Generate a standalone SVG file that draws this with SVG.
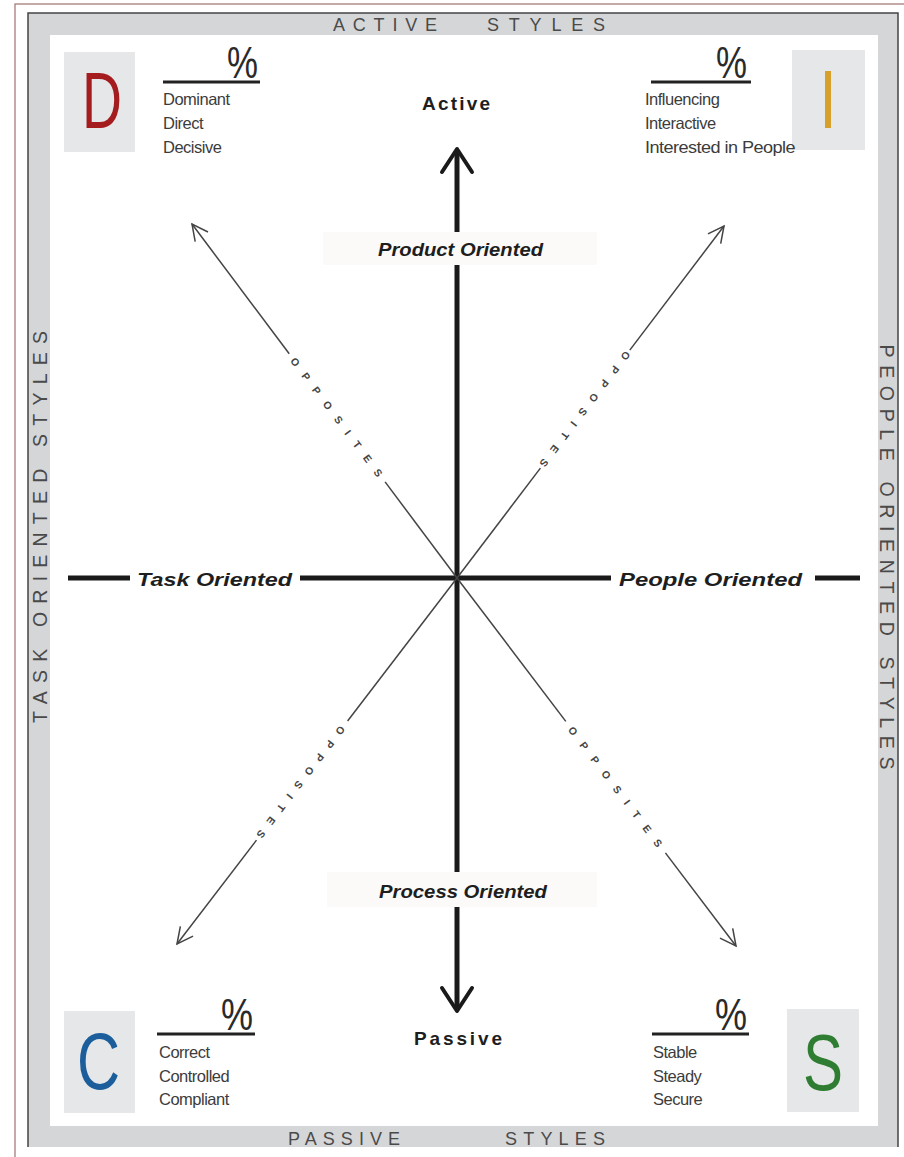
<svg xmlns="http://www.w3.org/2000/svg" width="904" height="1157" viewBox="0 0 904 1157">
<style>
.band{font-family:"Liberation Sans",Arial,sans-serif;font-size:18px;fill:#4a4a4a}
.vband{font-family:"Liberation Sans",Arial,sans-serif;font-size:19.5px;fill:#4a4a4a}
.big{font-family:"Liberation Sans",Arial,sans-serif;font-size:80px}
.pct{font-family:"Liberation Sans",Arial,sans-serif;font-size:44px;fill:#2a2a2a}
.desc{font-family:"Liberation Sans",Arial,sans-serif;font-size:16.5px;fill:#3c3c3c;letter-spacing:-0.5px}
.axis{font-family:"Liberation Sans",Arial,sans-serif;font-size:19px;font-weight:bold;font-style:italic;fill:#1e1e1e}
.pole{font-family:"Liberation Sans",Arial,sans-serif;font-size:19px;font-weight:bold;fill:#1e1e1e}
.opp{font-family:"Liberation Sans",Arial,sans-serif;font-size:10.5px;font-weight:bold;fill:#444}
.box{fill:#e6e7e8}
.uline{stroke:#222;stroke-width:3}
.thick{stroke:#1a1a1a;stroke-width:5;fill:none}
.diag{stroke:#444;stroke-width:1.5;fill:none}
.head{stroke:#1a1a1a;stroke-width:4;fill:none;stroke-linecap:round;stroke-linejoin:round}
.lbg{fill:#fbfaf8}
</style>
<defs>
<marker id="thin" viewBox="0 0 20 20" refX="18" refY="10" markerWidth="20" markerHeight="20" markerUnits="userSpaceOnUse" orient="auto">
<path d="M2,2 L18,10 L2,18" fill="none" stroke="#444" stroke-width="1.5"/>
</marker>
</defs>

<!-- frame -->
<g id="frame">
<rect x="15" y="4" width="900" height="1170" fill="none" stroke="#a07070" stroke-width="1.2"/>
<rect x="28" y="13" width="870" height="1134" fill="#d5d6d8"/>
<path d="M28,1147 V13 H898 V1147" fill="none" stroke="#444" stroke-width="1.5"/>
<rect x="50" y="35" width="828" height="1091" fill="#ffffff"/>
<text class="band"><tspan x="333" y="31" textLength="104" lengthAdjust="spacing">ACTIVE</tspan><tspan x="487" y="31" textLength="118" lengthAdjust="spacing">STYLES</tspan></text>
<text class="band"><tspan x="288" y="1145" textLength="112" lengthAdjust="spacing">PASSIVE</tspan><tspan x="505" y="1145" textLength="100" lengthAdjust="spacing">STYLES</tspan></text>
<text class="vband" transform="translate(47,527) rotate(-90)" text-anchor="middle" textLength="392" lengthAdjust="spacing">TASK ORIENTED STYLES</text>
<text class="vband" transform="translate(880,557) rotate(90)" text-anchor="middle" textLength="425" lengthAdjust="spacing">PEOPLE ORIENTED STYLES</text>
</g>

<!-- connectors -->
<g id="connectors">
<!-- vertical axis -->
<line class="thick" x1="457" y1="150" x2="457" y2="232"/>
<line class="thick" x1="457" y1="265" x2="457" y2="872"/>
<line class="thick" x1="457" y1="907" x2="457" y2="1010"/>
<path class="head" d="M442,172 L457,149 L472,172"/>
<path class="head" d="M442,988 L457,1011 L472,988"/>
<!-- horizontal axis -->
<line class="thick" x1="68" y1="578" x2="130" y2="578"/>
<line class="thick" x1="300" y1="578" x2="611" y2="578"/>
<line class="thick" x1="815" y1="578" x2="860" y2="578"/>
<!-- diagonals -->
<line class="diag" x1="457" y1="578" x2="385.1" y2="481.9"/>
<line class="diag" x1="289.2" y1="353.8" x2="192" y2="224" marker-end="url(#thin)"/>
<line class="diag" x1="457" y1="578" x2="540.4" y2="468.1"/>
<line class="diag" x1="629.8" y1="350.1" x2="724" y2="226" marker-end="url(#thin)"/>
<line class="diag" x1="457" y1="578" x2="347.6" y2="721"/>
<line class="diag" x1="256.5" y1="840.1" x2="177" y2="944" marker-end="url(#thin)"/>
<line class="diag" x1="457" y1="578" x2="565.8" y2="721.4"/>
<line class="diag" x1="665.4" y1="852.9" x2="736" y2="946" marker-end="url(#thin)"/>
<text class="opp" transform="translate(292.8,358.6) rotate(53.2)" dy="3.8" textLength="146" lengthAdjust="spacing">OPPOSITES</text>
<text class="opp" transform="translate(628,352.5) rotate(127.2)" dy="3.8" textLength="142" lengthAdjust="spacing">OPPOSITES</text>
<text class="opp" transform="translate(342.8,727.3) rotate(127.4)" dy="3.8" textLength="138" lengthAdjust="spacing">OPPOSITES</text>
<text class="opp" transform="translate(570.6,727.8) rotate(52.8)" dy="3.8" textLength="148" lengthAdjust="spacing">OPPOSITES</text>
</g>

<!-- axis labels -->
<g id="label-active"><text class="pole" x="422" y="110" textLength="68" lengthAdjust="spacing">Active</text></g>
<g id="label-passive"><text class="pole" x="414" y="1045" textLength="88" lengthAdjust="spacing">Passive</text></g>
<g id="label-product">
<rect class="lbg" x="323" y="232" width="274" height="33"/>
<text class="axis" x="378" y="256" textLength="165" lengthAdjust="spacingAndGlyphs">Product Oriented</text>
</g>
<g id="label-process">
<rect class="lbg" x="327" y="872" width="270" height="35"/>
<text class="axis" x="379" y="898" textLength="168" lengthAdjust="spacingAndGlyphs">Process Oriented</text>
</g>
<g id="label-task"><text class="axis" x="137" y="586" textLength="155" lengthAdjust="spacingAndGlyphs">Task Oriented</text></g>
<g id="label-people"><text class="axis" x="619" y="586" textLength="183" lengthAdjust="spacingAndGlyphs">People Oriented</text></g>

<!-- D -->
<g id="node-d">
<rect class="box" x="64" y="52" width="71" height="100"/>
<text class="big" x="82" y="128" fill="#a51c1f" textLength="40" lengthAdjust="spacingAndGlyphs">D</text>
<line class="uline" x1="163" y1="82" x2="260" y2="82"/>
<text class="pct" x="227" y="78" textLength="31" lengthAdjust="spacingAndGlyphs">%</text>
<text class="desc" x="163" y="105">Dominant</text>
<text class="desc" x="163" y="129">Direct</text>
<text class="desc" x="163" y="153">Decisive</text>
</g>

<!-- I -->
<g id="node-i">
<rect class="box" x="792" y="50" width="73" height="100"/>
<rect x="825" y="71" width="6" height="57" fill="#d6a02b"/>
<line class="uline" x1="651" y1="82" x2="751" y2="82"/>
<text class="pct" x="716" y="78" textLength="31" lengthAdjust="spacingAndGlyphs">%</text>
<text class="desc" x="645" y="105">Influencing</text>
<text class="desc" x="645" y="129">Interactive</text>
<text class="desc" x="645" y="153" textLength="150" lengthAdjust="spacingAndGlyphs">Interested in People</text>
</g>

<!-- C -->
<g id="node-c">
<rect class="box" x="64" y="1011" width="71" height="102"/>
<text class="big" x="77" y="1089" fill="#1b5e9b" textLength="43" lengthAdjust="spacingAndGlyphs">C</text>
<line class="uline" x1="157" y1="1034" x2="255" y2="1034"/>
<text class="pct" x="221" y="1030" textLength="32" lengthAdjust="spacingAndGlyphs">%</text>
<text class="desc" x="159" y="1058">Correct</text>
<text class="desc" x="159" y="1082">Controlled</text>
<text class="desc" x="159" y="1105">Compliant</text>
</g>

<!-- S -->
<g id="node-s">
<rect class="box" x="787" y="1009" width="72" height="103"/>
<text class="big" x="803" y="1090" fill="#2f7d32" textLength="40" lengthAdjust="spacingAndGlyphs">S</text>
<line class="uline" x1="652" y1="1034" x2="749" y2="1034"/>
<text class="pct" x="715" y="1030" textLength="32" lengthAdjust="spacingAndGlyphs">%</text>
<text class="desc" x="653" y="1058">Stable</text>
<text class="desc" x="653" y="1082">Steady</text>
<text class="desc" x="653" y="1105">Secure</text>
</g>
</svg>
